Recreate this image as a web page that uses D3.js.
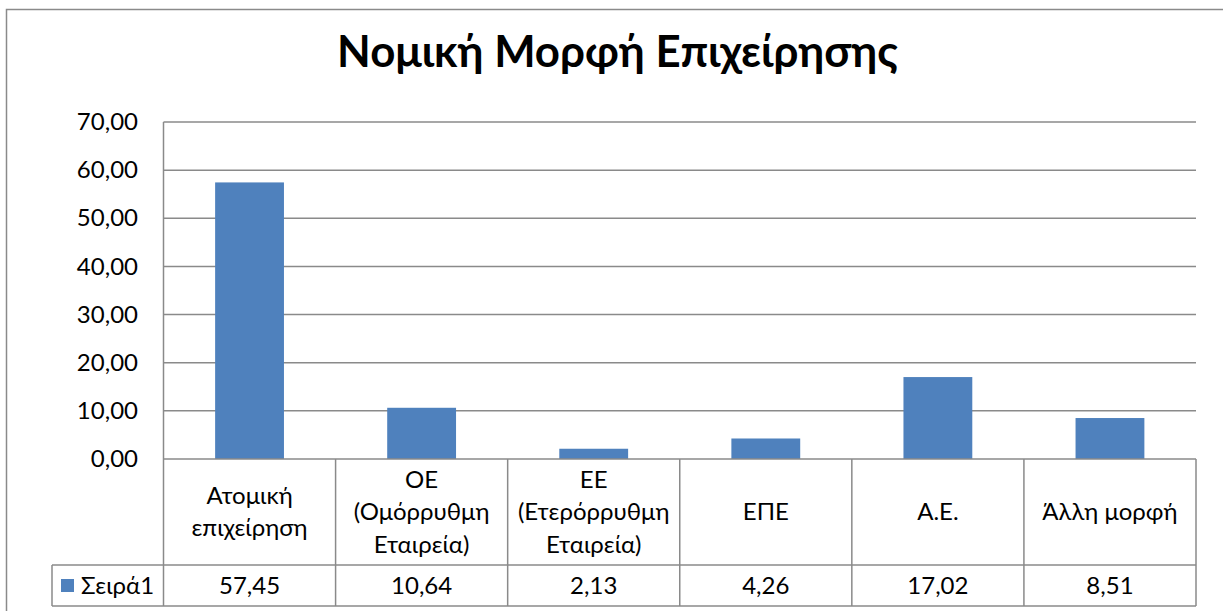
<!DOCTYPE html>
<html><head><meta charset="utf-8">
<script src="https://cdn.jsdelivr.net/npm/d3@7"></script>
<style>body{margin:0;background:#fff}svg{display:block}text{font-family:Lato,"Noto Sans",sans-serif;fill:#000}</style>
</head><body><svg id="c" width="1223" height="611"></svg>
<script>
const title = "Νομική Μορφή Επιχείρησης";
const categories = ["Ατομική επιχείρηση","ΟΕ (Ομόρρυθμη Εταιρεία)","ΕΕ (Ετερόρρυθμη Εταιρεία)","ΕΠΕ","Α.Ε.","Άλλη μορφή"];
const categoryLines = [["Ατομική","επιχείρηση"],["ΟΕ","(Ομόρρυθμη","Εταιρεία)"],["ΕΕ","(Ετερόρρυθμη","Εταιρεία)"],["ΕΠΕ"],["Α.Ε."],["Άλλη μορφή"]];
const seriesName = "Σειρά1";
const values = [57.45, 10.64, 2.13, 4.26, 17.02, 8.51];
const yTicks = [0,10,20,30,40,50,60,70];

const svg = d3.select("#c");
const fmt = v => d3.format(".2f")(v).replace(".", ",");
const grid = "#8a8a8a";

// outer frame
svg.append("rect").attr("x",6.5).attr("y",9.5).attr("width",1230).attr("height",620)
  .attr("fill","none").attr("stroke","#8a8a8a").attr("stroke-width",1.5);

const L = 163.5, R = 1196, T = 122, B = 459;
const x = d3.scaleBand().domain(categories).range([L,R]).paddingInner(0).paddingOuter(0);
const y = d3.scaleLinear().domain([0,70]).range([B,T]);

// title
const tt = svg.append("text").attr("x",(337+898)/2).attr("y",67).attr("text-anchor","middle")
  .style("font-weight","bold").style("font-size","34px").text(title);
{ const w = tt.node().getComputedTextLength(); tt.style("font-size", (34*561/w).toFixed(2)+"px"); }

// gridlines
svg.append("g").selectAll("line").data(yTicks.filter(d=>d>0)).join("line")
  .attr("x1",L).attr("x2",R).attr("y1",d=>y(d)).attr("y2",d=>y(d))
  .attr("stroke",grid).attr("stroke-width",1.5);

// y axis labels
const yAxis = d3.axisLeft(y).tickValues(yTicks).tickFormat(fmt).tickSize(0).tickPadding(0);
const ga = svg.append("g").attr("transform",`translate(138,0)`).call(yAxis);
ga.select(".domain").remove();
ga.selectAll("text").style("font-size","24px").style("font-family","Lato").attr("fill","#000");

// bars
svg.append("g").selectAll("rect").data(values).join("rect")
  .attr("x",(d,i)=>x(categories[i]) + x.bandwidth()*0.3)
  .attr("width",x.bandwidth()*0.4)
  .attr("y",d=>y(d)).attr("height",d=>B-y(d))
  .attr("fill","#4F81BD");

// table
const rowTop = B, rowMid = 565, rowBot = 606, legL = 52;
const tg = svg.append("g").attr("stroke",grid).attr("stroke-width",1.5);
tg.append("line").attr("x1",L).attr("x2",R).attr("y1",B).attr("y2",B);
tg.append("line").attr("x1",legL).attr("x2",R).attr("y1",rowMid).attr("y2",rowMid);
tg.append("line").attr("x1",legL).attr("x2",R).attr("y1",rowBot).attr("y2",rowBot);
tg.append("line").attr("x1",legL).attr("x2",legL).attr("y1",rowMid).attr("y2",rowBot);
tg.append("line").attr("x1",L).attr("x2",L).attr("y1",T).attr("y2",rowBot);
tg.selectAll(".v").data(categories).join("line").attr("class","v")
  .attr("x1",d=>x(d)+x.bandwidth()).attr("x2",d=>x(d)+x.bandwidth())
  .attr("y1",rowTop).attr("y2",rowBot);

// category labels
const lh = 32.5, midBase = 520;
categories.forEach((c,i)=>{
  const lines = categoryLines[i];
  const t = svg.append("text").attr("text-anchor","middle").style("font-size","24px");
  lines.forEach((ln,j)=>{
    t.append("tspan").attr("x",x(c)+x.bandwidth()/2)
     .attr("y", midBase + (j-(lines.length-1)/2)*lh).text(ln);
  });
});

// values row
svg.append("g").selectAll("text").data(values).join("text")
  .attr("x",(d,i)=>x(categories[i])+x.bandwidth()/2).attr("y",594)
  .attr("text-anchor","middle").style("font-size","24px").text(fmt);

// legend
svg.append("rect").attr("x",61).attr("y",579).attr("width",13).attr("height",13).attr("fill","#4F81BD");
svg.append("text").attr("x",81).attr("y",594).style("font-size","24px").text(seriesName);
</script></body></html>
